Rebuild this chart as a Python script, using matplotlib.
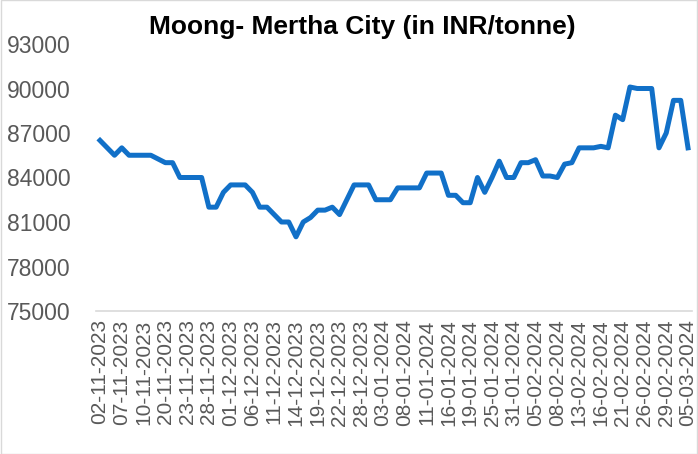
import numpy as np
import matplotlib.pyplot as plt
from matplotlib.patches import Rectangle

# price points (INR/tonne), one per trading day, date label on every 3rd point
prices = [86500, 86000, 85500, 86000, 85500, 85500, 85500, 85500, 85250, 85000,
          85000, 84000, 84000, 84000, 84000, 82000, 82000, 83000, 83500, 83500,
          83500, 83000, 82000, 82000, 81500, 81000, 81000, 80000, 81000, 81300,
          81800, 81800, 82000, 81500, 82500, 83500, 83500, 83500, 82500, 82500,
          82500, 83300, 83300, 83300, 83300, 84300, 84300, 84300, 82800, 82800,
          82300, 82300, 84000, 83000, 84000, 85100, 84000, 84000, 85000, 85000,
          85200, 84100, 84100, 84000, 84900, 85000, 86000, 86000, 86000, 86100,
          86000, 88200, 87900, 90100, 90000, 90000, 90000, 86000, 87000, 89200,
          89200, 86000]

date_labels = ["02-11-2023", "07-11-2023", "10-11-2023", "20-11-2023", "23-11-2023",
               "28-11-2023", "01-12-2023", "06-12-2023", "11-12-2023", "14-12-2023",
               "19-12-2023", "22-12-2023", "28-12-2023", "03-01-2024", "08-01-2024",
               "11-01-2024", "16-01-2024", "19-01-2024", "25-01-2024", "31-01-2024",
               "05-02-2024", "08-02-2024", "13-02-2024", "16-02-2024", "21-02-2024",
               "26-02-2024", "29-02-2024", "05-03-2024"]

y_ticks = [75000, 78000, 81000, 84000, 87000, 90000, 93000]

plt.rcParams['font.family'] = ['Liberation Sans', 'DejaVu Sans']

fig = plt.figure(figsize=(6.98, 4.54), dpi=100)
ax = fig.add_axes([96 / 698, 1 - 311 / 454, 596 / 698, 267 / 454])

x = np.arange(len(prices))
ax.plot(x, prices, color='#1170C8', linewidth=3.6, solid_joinstyle='round')

ax.set_ylim(75000, 93000)
ax.set_yticks(y_ticks)
ax.set_yticklabels([str(v) for v in y_ticks])
ax.set_xlim(-0.55, len(prices) - 0.45)
ax.set_xticks(x[::3])
ax.set_xticklabels(date_labels, rotation=90)

for side in ['top', 'right', 'left']:
    ax.spines[side].set_visible(False)
ax.spines['bottom'].set_color('#d9d9d9')
ax.spines['bottom'].set_linewidth(1.2)

ax.tick_params(axis='both', length=0, labelcolor='#595959')
ax.tick_params(axis='y', pad=18, labelsize=16.5)
ax.tick_params(axis='x', pad=6, labelsize=15)

fig.text(362 / 698, 1 - 27 / 454, "Moong- Mertha City (in INR/tonne)",
         ha='center', va='center', fontsize=19, fontweight='bold', color='black')

# light chart-area border
fig.patches.append(Rectangle((0.001, 0.001), 0.998, 0.998, transform=fig.transFigure,
                             fill=False, edgecolor='#d9d9d9', linewidth=1))

fig.savefig("out.png", dpi=100)
